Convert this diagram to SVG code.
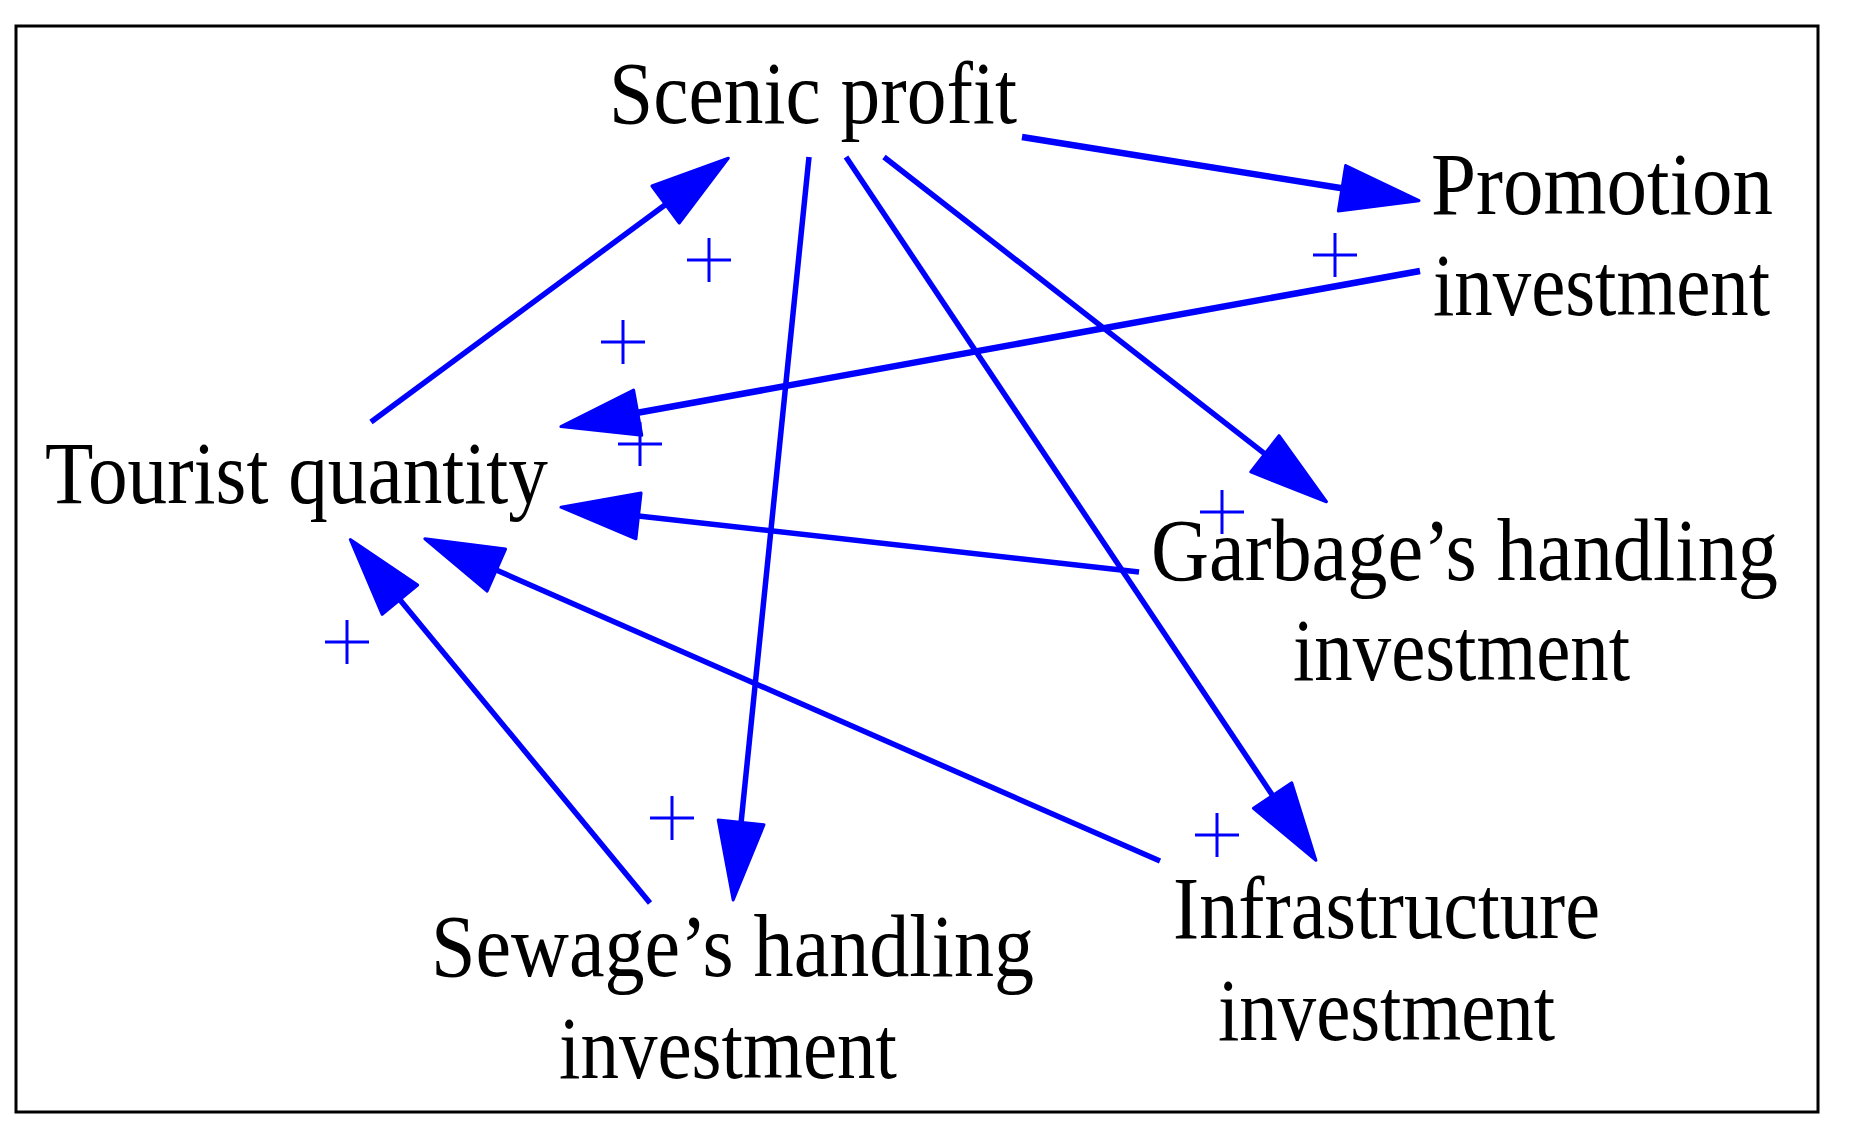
<svg xmlns="http://www.w3.org/2000/svg" xmlns:xlink="http://www.w3.org/1999/xlink" width="1849" height="1143" viewBox="0 0 1849 1143">
<style>
.lbl{font-family:"Liberation Serif","Times New Roman",serif;font-size:88px;fill:#000}
.c{stroke:#0000ff;stroke-width:5.5;fill:none;marker-end:url(#ah)}
.thick{stroke-width:6.5}
.pl{stroke:#0000ff;stroke-width:3;fill:none}
</style>
<defs>
<marker id="ah" markerUnits="userSpaceOnUse" markerWidth="84" markerHeight="52" refX="1" refY="24" orient="auto" overflow="visible">
<path d="M1,1 L79,24 L1,47 Z" fill="#0000ff" stroke="#0000ff" stroke-width="3" stroke-linejoin="round"/>
</marker>
<path id="plus" d="M-22,0 H22 M0,-22 V22"/>
</defs>
<rect x="16" y="26" width="1802" height="1086" fill="#fff" stroke="#000" stroke-width="3"/>
<g id="connectors">
<line class="c" x1="371" y1="422" x2="665.6" y2="204.5"/>
<line class="c thick" x1="1022" y1="137" x2="1342" y2="188.3"/>
<line class="c thick" x1="1420" y1="271" x2="637.7" y2="412.7"/>
<line class="c" x1="809" y1="157" x2="741.1" y2="822.4"/>
<line class="c" x1="846" y1="157" x2="1272.6" y2="795.5"/>
<line class="c" x1="884" y1="157" x2="1264.9" y2="453.8"/>
<line class="c" x1="1139" y1="572" x2="638.5" y2="515.9"/>
<line class="c" x1="1160" y1="861" x2="496.3" y2="570.1"/>
<line class="c" x1="650" y1="903" x2="399.9" y2="599.7"/>
</g>
<g id="polarities" class="pl">
<use xlink:href="#plus" x="709" y="260"/>
<use xlink:href="#plus" x="1335" y="255"/>
<use xlink:href="#plus" x="623" y="342"/>
<use xlink:href="#plus" x="640" y="444"/>
<use xlink:href="#plus" x="1222" y="512"/>
<use xlink:href="#plus" x="347" y="642"/>
<use xlink:href="#plus" x="672" y="818"/>
<use xlink:href="#plus" x="1217" y="835"/>
</g>
<g id="scenic-profit">
<text class="lbl" x="609" y="123" textLength="408" lengthAdjust="spacingAndGlyphs">Scenic profit</text>
</g>
<g id="promotion-investment">
<text class="lbl" x="1431" y="214" textLength="342" lengthAdjust="spacingAndGlyphs">Promotion</text>
<text class="lbl" x="1433" y="315" textLength="337" lengthAdjust="spacingAndGlyphs">investment</text>
</g>
<g id="tourist-quantity">
<text class="lbl" x="45" y="503" textLength="503" lengthAdjust="spacingAndGlyphs">Tourist quantity</text>
</g>
<g id="garbage-handling-investment">
<text class="lbl" x="1151" y="580" textLength="627" lengthAdjust="spacingAndGlyphs">Garbage’s handling</text>
<text class="lbl" x="1293" y="680" textLength="337" lengthAdjust="spacingAndGlyphs">investment</text>
</g>
<g id="sewage-handling-investment">
<text class="lbl" x="431" y="976" textLength="603" lengthAdjust="spacingAndGlyphs">Sewage’s handling</text>
<text class="lbl" x="559" y="1078" textLength="338" lengthAdjust="spacingAndGlyphs">investment</text>
</g>
<g id="infrastructure-investment">
<text class="lbl" x="1173" y="938" textLength="427" lengthAdjust="spacingAndGlyphs">Infrastructure</text>
<text class="lbl" x="1218" y="1040" textLength="337" lengthAdjust="spacingAndGlyphs">investment</text>
</g>
</svg>
